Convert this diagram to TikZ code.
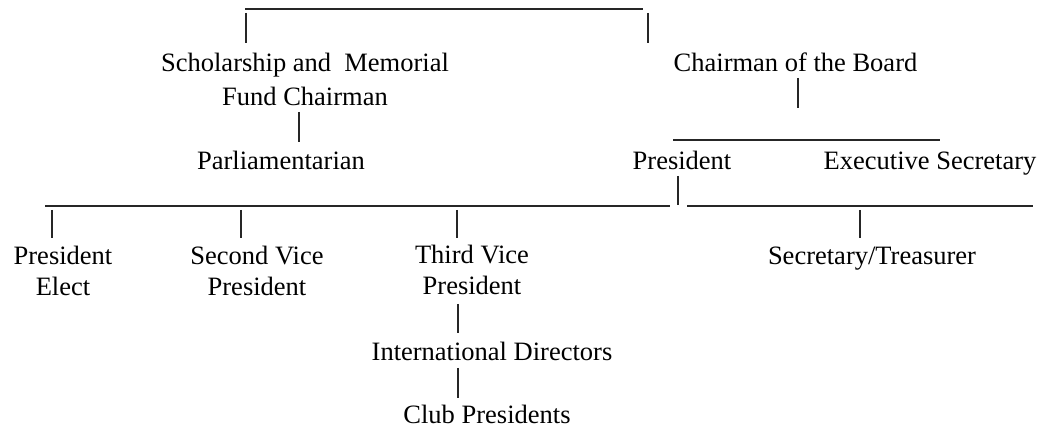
\documentclass[tikz,border=0pt]{standalone}
\usepackage{fontspec}
\setmainfont{Liberation Serif}
\usetikzlibrary{calc}

\begin{document}
\begin{tikzpicture}[x=1pt, y=-1pt,
		post/.style={inner sep=0pt, anchor=base, align=center,
			font=\fontsize{26.5}{31}\selectfont},
		bar/.style={line width=1.1pt, color=black!85}]
			%%%%% START %%%%%
			\useasboundingbox (0, 0) rectangle (1042, 430);
			
			% multi-line posts sit on the baseline of their last line
			\node[post] (schol) at (305, 106) {Scholarship and\ \ Memorial\\[3pt]Fund Chairman};
			\node[post] (chair) at (795.5, 72) {Chairman of the Board};
			\node[post] (parl) at (281, 170) {Parliamentarian};
			\node[post] (pres) at (682, 170) {President};
			\node[post] (exec) at (930, 170) {Executive Secretary};
			
			\node[post] (elect) at (63, 296) {President\\Elect};
			\node[post] (vicetwo) at (257, 296) {Second Vice\\President};
			\node[post] (vicethree) at (472, 295) {Third Vice\\President};
			\node[post] (secr) at (872, 265) {Secretary/Treasurer};
			\node[post] (intl) at (492, 361) {International Directors};
			\node[post] (club) at (487, 424) {Club Presidents};
			
			% top rule
			\coordinate (topl) at (245, 9);
			\coordinate (topr) at (643, 9);
			\draw[bar] (topl) -- (topr);
			\draw[bar] (246, 13) -- (246, 43);
			\draw[bar] (648, 13) -- (648, 43);
			
			\draw[bar] (299, 112) -- (299, 142);
			\draw[bar] (798, 78) -- (798, 108);
			\draw[bar] (673, 140) -- (940, 140);
			
			% officers rule
			\coordinate (offl) at (45, 206);
			\coordinate (offr) at (670, 206);
			\draw[bar] (offl) -- (offr);
			\draw[bar] (678, 176) -- (678, 205);
			\draw[bar] (687, 206) -- (1033, 206);
			
			\foreach \x in {52, 241, 457, 860}
				\draw[bar] (\x, 210) -- (\x, 238);
			
			\draw[bar] (458, 304) -- (458, 333);
			\draw[bar] (458, 368) -- (458, 398);
			%%%%% END %%%%%
\end{tikzpicture}
\end{document}
